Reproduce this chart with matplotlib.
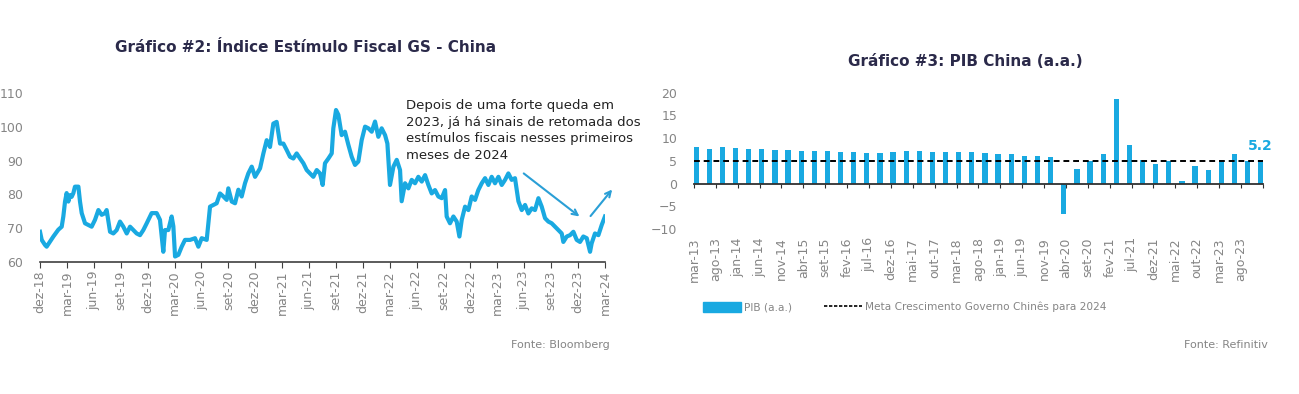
import matplotlib.pyplot as plt
import numpy as np
from matplotlib.patches import Patch
from matplotlib.lines import Line2D

plt.rcParams['font.family'] = ['DejaVu Sans']

# ---- Grafico #2: indice estimulo fiscal GS (meses desde dez-18) ----
gs_month = [0.0, 0.19, 0.56, 0.74, 1.12, 1.49, 2.04, 2.42, 2.60, 2.79, 2.97, 3.16, 3.35, 3.53,
            3.72, 3.90, 4.28, 4.46, 4.65, 5.02, 5.39, 5.76, 6.13, 6.51, 6.88, 7.25, 7.43, 7.81,
            8.18, 8.55, 8.92, 9.29, 9.67, 10.04, 10.41, 10.78, 11.15, 11.52, 11.90, 12.45, 13.01,
            13.38, 13.75, 13.94, 14.31, 14.68, 14.87, 15.06, 15.43, 15.80, 16.17, 16.73, 17.29,
            17.66, 18.03, 18.59, 18.96, 19.33, 19.70, 20.07, 20.45, 20.82, 21.00, 21.38, 21.75,
            22.12, 22.49, 22.86, 23.23, 23.61, 23.98, 24.54, 24.91, 25.28, 25.65, 26.02, 26.39,
            26.77, 27.14, 27.51, 27.88, 28.25, 28.62,
            29.00, 29.37, 29.74, 30.11, 30.48, 30.86, 31.23, 31.52, 31.78, 32.16, 32.53, 32.71,
            33.01, 33.27, 33.64, 34.01, 34.39, 34.76, 35.13, 35.50, 35.87, 36.25, 36.62, 36.99,
            37.36, 37.73, 38.10, 38.48, 38.74, 39.03, 39.41, 39.78, 40.15, 40.33, 40.71, 41.08,
            41.45, 41.82, 42.19, 42.57, 42.94, 43.31, 43.68, 44.05, 44.42, 44.80, 45.17, 45.35,
            45.72, 46.10, 46.47, 46.77, 47.03, 47.40, 47.77, 48.14, 48.51, 48.88, 49.26, 49.63,
            50.00, 50.37, 50.74, 51.12, 51.49, 51.86, 52.23, 52.60, 52.97, 53.35, 53.72, 54.09,
            54.46, 54.83, 55.20, 55.58, 55.95, 56.32, 56.69, 57.06, 57.43, 57.81, 58.18, 58.36,
            58.74, 59.11, 59.48, 59.85, 60.22, 60.59, 60.97, 61.34, 61.52, 61.89, 62.27, 62.64, 63.0]
gs_value = [69.0, 66.6, 65.1, 64.6, 66.1, 67.6, 69.6, 70.5, 73.5, 77.9, 80.4, 77.9, 79.8, 79.3,
            80.4, 82.3, 82.3, 77.9, 74.5, 71.5, 71.0, 70.5, 72.5, 75.4, 74.0, 74.5, 75.4, 69.0,
            68.5, 69.5, 72.0, 70.5, 68.5, 70.5, 69.5, 68.5, 68.0, 69.5, 71.5, 74.5, 74.5,
            72.5, 63.1, 69.5, 69.5, 73.5, 70.6, 61.7, 62.2, 64.6, 66.6, 66.6, 67.1,
            64.6, 67.1, 66.6, 76.4, 76.9, 77.4, 80.3, 79.4, 78.4, 81.8, 77.9, 77.4,
            81.4, 79.4, 83.3, 86.2, 88.2, 85.2, 87.7, 92.1, 96.0, 94.0, 100.9, 101.4,
            95.0, 95.0, 93.1, 91.1, 90.6, 92.1,
            90.6, 89.2, 87.2, 86.2, 85.2, 87.2, 86.2, 82.8, 89.2, 90.6, 92.1, 99.5,
            104.9, 103.5, 97.5, 98.5, 94.6, 91.1, 88.7, 89.7, 96.0, 100.0, 99.5, 98.5,
            101.5, 97.0, 99.5, 97.5, 95.0, 82.8, 88.2, 90.2, 87.2, 78.0, 83.3, 81.8,
            84.3, 83.3, 85.2, 83.8, 85.7, 82.8, 80.3, 81.3, 79.4, 78.9, 81.3, 73.5,
            71.5, 73.5, 72.0, 67.6, 72.5, 76.4, 75.4, 79.4, 78.4, 81.3, 83.3, 84.8,
            82.8, 85.2, 83.3, 85.2, 82.8, 84.3, 86.2, 84.3, 84.8, 78.0, 75.4, 76.9,
            74.4, 75.9, 75.4, 78.9, 76.4, 73.0, 72.0, 71.5, 70.5, 69.5, 68.5, 66.0,
            67.6, 68.0, 69.0, 66.6, 66.0, 67.6, 67.1, 63.1, 65.6, 68.5, 68.0, 71.0, 73.5]
gs_ticklabels = ['dez-18', 'mar-19', 'jun-19', 'set-19', 'dez-19', 'mar-20', 'jun-20', 'set-20',
                 'dez-20', 'mar-21', 'jun-21', 'set-21', 'dez-21', 'mar-22', 'jun-22', 'set-22',
                 'dez-22', 'mar-23', 'jun-23', 'set-23', 'dez-23', 'mar-24']

# ---- Grafico #3: PIB China a.a. (trimestral, mar-13 a dez-23) ----
pib = [8.0, 7.6, 8.0, 7.8, 7.5, 7.6, 7.3, 7.4, 7.2, 7.2, 7.1, 7.0, 6.9, 6.8, 6.8, 6.9,
       7.1, 7.1, 7.0, 6.9, 7.0, 7.0, 6.8, 6.5, 6.4, 6.0, 6.0, 5.8, -6.8, 3.2, 4.9, 6.5,
       18.6, 8.4, 5.2, 4.4, 4.9, 0.5, 3.9, 3.0, 4.8, 6.4, 4.9, 5.2]
meta = 5.0
pib_ticklabels = ['mar-13', 'ago-13', 'jan-14', 'jun-14', 'nov-14', 'abr-15', 'set-15', 'fev-16',
                  'jul-16', 'dez-16', 'mai-17', 'out-17', 'mar-18', 'ago-18', 'jan-19', 'jun-19',
                  'nov-19', 'abr-20', 'set-20', 'fev-21', 'jul-21', 'dez-21', 'mai-22', 'out-22',
                  'mar-23', 'ago-23']

blue = '#19a9e1'
navy = '#2b2a4a'
gray = '#858585'

fig = plt.figure(figsize=(12.99, 3.94), dpi=100)

# ---------------- left chart ----------------
ax = fig.add_axes([0.0308, 0.3343, 0.4349, 0.4304])
ax.plot(gs_month, gs_value, color=blue, lw=3.0, solid_joinstyle='round')
ax.set_xlim(0, 63)
ax.set_ylim(60, 110)
ax.set_yticks(np.arange(60, 111, 10))
ax.set_xticks(np.arange(0, 64, 3))
ax.set_xticklabels(gs_ticklabels, rotation=90)
for s in ['top', 'right', 'left']:
    ax.spines[s].set_visible(False)
ax.spines['bottom'].set_color('#404040')
ax.spines['bottom'].set_linewidth(1.2)
ax.tick_params(axis='y', length=0, pad=12, labelsize=9, labelcolor=gray)
ax.tick_params(axis='x', length=4, color='#404040', labelsize=9, labelcolor=gray, pad=2)

ax.text(0.647, 0.96, 'Depois de uma forte queda em\n2023, já há sinais de retomada dos\n'
        'estímulos fiscais nesses primeiros\nmeses de 2024',
        transform=ax.transAxes, ha='left', va='top', fontsize=9.5, color='#222222',
        linespacing=1.35)
ax.annotate('', xy=(60.4, 73.0), xytext=(53.7, 86.7),
            arrowprops=dict(arrowstyle='->', color='#2a9fd6', lw=1.5))
ax.annotate('', xy=(64.0, 82.1), xytext=(61.2, 73.0), annotation_clip=False,
            arrowprops=dict(arrowstyle='->', color='#2a9fd6', lw=1.5))

fig.text(306 / 1299, 1 - 48 / 394, 'Gráfico #2: Índice Estímulo Fiscal GS - China',
         ha='center', va='center', fontsize=11, fontweight='bold', color=navy)
fig.text(610 / 1299, 1 - 345 / 394, 'Fonte: Bloomberg', ha='right', va='center',
         fontsize=8, color=gray)

# ---------------- right chart ----------------
bx = fig.add_axes([0.5342, 0.4188, 0.438, 0.3459])
pos = np.arange(len(pib)) * 3 + 0.5
bx.bar(pos, pib, width=1.2, color=blue)
bx.axhline(meta, color='black', ls=(0, (3, 2)), lw=1.4)
bx.set_xlim(0, 130)
bx.set_ylim(-10, 20)
bx.set_yticks(np.arange(-10, 21, 5))
for s in ['top', 'right', 'left']:
    bx.spines[s].set_visible(False)
bx.spines['bottom'].set_position(('data', 0))
bx.spines['bottom'].set_color('#303030')
bx.spines['bottom'].set_linewidth(1.3)
bx.set_xticks(np.arange(0, 131, 5))
bx.tick_params(axis='x', length=3, color='#303030', labelbottom=False)
bx.tick_params(axis='y', length=0, pad=12, labelsize=9, labelcolor=gray)
sec = bx.secondary_xaxis('bottom')
sec.set_xticks(np.arange(0, 131, 5), pib_ticklabels + [''], rotation=90)
sec.tick_params(length=0, labelsize=9, labelcolor=gray, pad=6)
sec.spines['bottom'].set_visible(False)
bx.annotate(f'{pib[-1]:.1f}', xy=(pos[-1], pib[-1]), xytext=(0, 5), textcoords='offset points',
            ha='center', va='bottom', fontsize=10, fontweight='bold', color=blue)

fig.text(965 / 1299, 1 - 61 / 394, 'Gráfico #3: PIB China (a.a.)',
         ha='center', va='center', fontsize=11, fontweight='bold', color=navy)
handles = [Patch(facecolor=blue, edgecolor=blue),
           Line2D([0], [0], color='black', ls=(0, (2, 1)), lw=1.2)]
fig.legend(handles, ['PIB (a.a.)', 'Meta Crescimento Governo Chinês para 2024'],
           loc='center', bbox_to_anchor=(905 / 1299, 1 - 307 / 394), ncol=2, frameon=False,
           fontsize=7.6, labelcolor=gray, handlelength=3.6, handleheight=1.1,
           handletextpad=0.3, columnspacing=3.0)
fig.text(1268 / 1299, 1 - 345 / 394, 'Fonte: Refinitiv', ha='right', va='center',
         fontsize=8, color=gray)

plt.savefig('out.png', dpi=100)
